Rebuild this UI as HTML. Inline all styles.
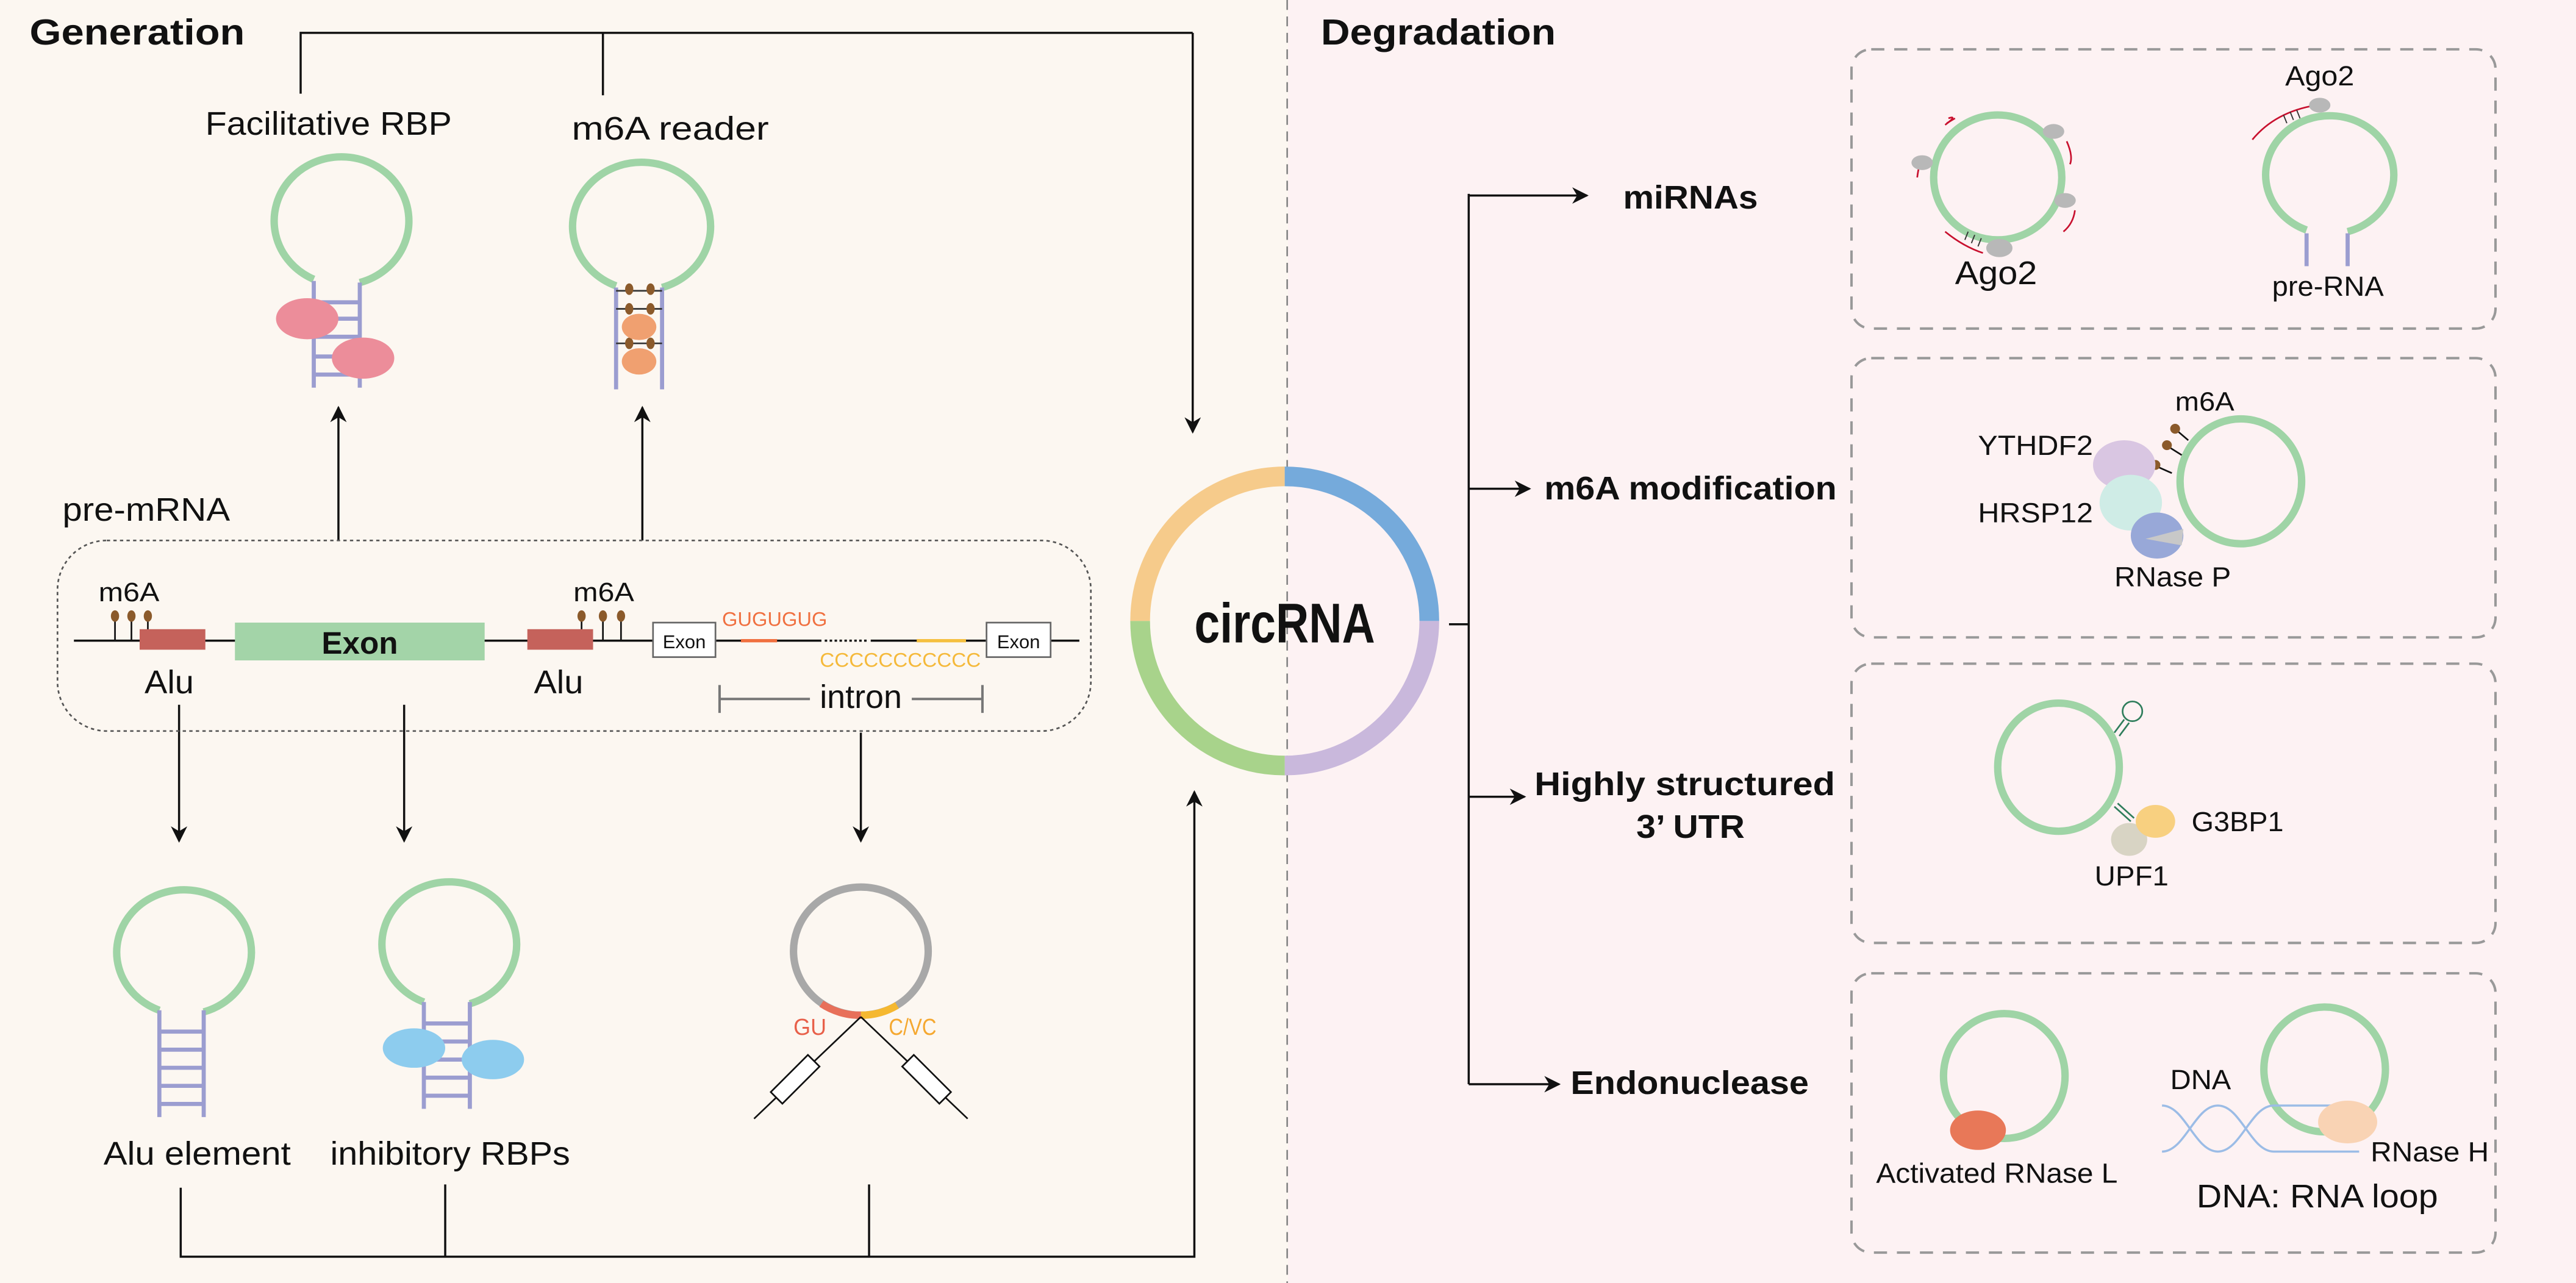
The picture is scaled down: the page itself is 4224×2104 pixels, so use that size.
<!DOCTYPE html>
<html><head><meta charset="utf-8"><style>
html,body{margin:0;padding:0;width:4224px;height:2104px;overflow:hidden;background:#fcf7f1}
svg{display:block}
text{font-family:"Liberation Sans",Arial,sans-serif;fill:#111}
.b{font-weight:bold}
</style></head><body>
<svg width="4224" height="2104" viewBox="0 0 1568 781" xmlns="http://www.w3.org/2000/svg">
<defs>
<marker id="ar" viewBox="0 0 10 10" refX="9" refY="5" markerWidth="10" markerHeight="10" markerUnits="userSpaceOnUse" orient="auto">
<path d="M0,0 L10,5 L0,10 L3,5 z" fill="#111"/>
</marker>
</defs>
<rect x="0" y="0" width="784" height="781" fill="#fcf7f1"/>
<rect x="784" y="0" width="784" height="781" fill="#fdf2f3"/>
<line x1="783.5" y1="0" x2="783.5" y2="781" stroke="#888" stroke-width="1" stroke-dasharray="6,4"/>

<!-- Titles -->
<text x="18" y="27" class="b" font-size="22" textLength="131" lengthAdjust="spacingAndGlyphs">Generation</text>
<text x="804" y="27" class="b" font-size="22" textLength="143" lengthAdjust="spacingAndGlyphs">Degradation</text>

<!-- top connector -->
<g stroke="#111" stroke-width="1.3" fill="none">
<polyline points="183,57 183,20 726,20"/>
<line x1="367" y1="20" x2="367" y2="58"/>
<line x1="726" y1="20" x2="726" y2="263" marker-end="url(#ar)"/>
<line x1="206" y1="329" x2="206" y2="248" marker-end="url(#ar)"/>
<line x1="391" y1="329" x2="391" y2="248" marker-end="url(#ar)"/>
<line x1="109" y1="429" x2="109" y2="512" marker-end="url(#ar)"/>
<line x1="246" y1="429" x2="246" y2="512" marker-end="url(#ar)"/>
<line x1="524" y1="446" x2="524" y2="512" marker-end="url(#ar)"/>
<polyline points="110,723 110,765 727,765 727,482" marker-end="url(#ar)"/>
<line x1="271" y1="721" x2="271" y2="765"/>
<line x1="529" y1="721" x2="529" y2="765"/>
</g>

<text x="125" y="82" font-size="20" textLength="150" lengthAdjust="spacingAndGlyphs">Facilitative RBP</text>
<text x="348" y="85" font-size="20" textLength="120" lengthAdjust="spacingAndGlyphs">m6A reader</text>

<!-- stem loop 1 -->
<path d="M191,170 A41,39 0 1 1 219,172" fill="none" stroke="#9fd4a6" stroke-width="4.5"/>
<g stroke="#9b9dd0" stroke-width="2.5">
<line x1="191" y1="171" x2="191" y2="236"/><line x1="219" y1="172" x2="219" y2="236"/>
<line x1="191" y1="184" x2="219" y2="184"/><line x1="191" y1="194" x2="219" y2="194"/><line x1="191" y1="205" x2="219" y2="205"/><line x1="191" y1="217" x2="219" y2="217"/><line x1="191" y1="228" x2="219" y2="228"/>
</g>
<ellipse cx="187" cy="194" rx="19" ry="12.5" fill="#ec8d9a"/>
<ellipse cx="221" cy="218" rx="19" ry="12.5" fill="#ec8d9a"/>

<!-- stem loop 2 -->
<path d="M375,174 A42,39 0 1 1 403,175" fill="none" stroke="#9fd4a6" stroke-width="4.5"/>
<g stroke="#9b9dd0" stroke-width="2.5">
<line x1="375" y1="175" x2="375" y2="237"/><line x1="403" y1="175" x2="403" y2="237"/>
</g>
<g stroke="#333" stroke-width="1">
<line x1="375" y1="177" x2="403" y2="177"/><line x1="375" y1="188" x2="403" y2="188"/><line x1="375" y1="209" x2="403" y2="209"/>
</g>
<g fill="#8b5a2b">
<ellipse cx="383" cy="176" rx="2.5" ry="3.5"/><ellipse cx="396" cy="176" rx="2.5" ry="3.5"/>
<ellipse cx="383" cy="188" rx="2.5" ry="3.5"/><ellipse cx="396" cy="188" rx="2.5" ry="3.5"/>
<ellipse cx="383" cy="209" rx="2.5" ry="3.5"/><ellipse cx="396" cy="209" rx="2.5" ry="3.5"/>
</g>
<ellipse cx="389" cy="199" rx="10.5" ry="8" fill="#f0a070"/>
<ellipse cx="389" cy="220" rx="10.5" ry="8" fill="#f0a070"/>

<!-- pre-mRNA -->
<text x="38" y="317" font-size="20" textLength="102" lengthAdjust="spacingAndGlyphs">pre-mRNA</text>
<rect x="35" y="329" width="629" height="116" rx="30" ry="30" fill="none" stroke="#555" stroke-width="1" stroke-dasharray="2,2"/>
<line x1="45" y1="390" x2="657" y2="390" stroke="#111" stroke-width="1.3"/>
<text x="60" y="366" font-size="16" textLength="37" lengthAdjust="spacingAndGlyphs">m6A</text>
<text x="349" y="366" font-size="16" textLength="37" lengthAdjust="spacingAndGlyphs">m6A</text>
<g stroke="#111" stroke-width="1">
<line x1="70" y1="376" x2="70" y2="390"/><line x1="80" y1="376" x2="80" y2="390"/><line x1="90" y1="376" x2="90" y2="390"/>
<line x1="354" y1="376" x2="354" y2="390"/><line x1="367" y1="376" x2="367" y2="390"/><line x1="378" y1="376" x2="378" y2="390"/>
</g>
<g fill="#8b5a2b">
<ellipse cx="70" cy="375" rx="2.5" ry="3.5"/><ellipse cx="80" cy="375" rx="2.5" ry="3.5"/><ellipse cx="90" cy="375" rx="2.5" ry="3.5"/>
<ellipse cx="354" cy="375" rx="2.5" ry="3.5"/><ellipse cx="367" cy="375" rx="2.5" ry="3.5"/><ellipse cx="378" cy="375" rx="2.5" ry="3.5"/>
</g>
<rect x="85" y="383" width="40" height="12.5" fill="#c5625b"/>
<rect x="321" y="383" width="40" height="12.5" fill="#c5625b"/>
<rect x="143" y="379" width="152" height="23" fill="#a3d4a8"/>
<text x="219" y="398" class="b" font-size="19" text-anchor="middle">Exon</text>
<rect x="397.5" y="379" width="38" height="21" fill="#fff" stroke="#666" stroke-width="1"/>
<text x="416.5" y="394.5" font-size="11.5" text-anchor="middle">Exon</text>
<rect x="600.5" y="379" width="39" height="21" fill="#fff" stroke="#666" stroke-width="1"/>
<text x="620" y="394.5" font-size="11.5" text-anchor="middle">Exon</text>
<rect x="436" y="388" width="164" height="4" fill="#fcf7f1"/>
<line x1="436" y1="390" x2="500" y2="390" stroke="#111" stroke-width="1.3"/>
<line x1="530" y1="390" x2="600" y2="390" stroke="#111" stroke-width="1.3"/>
<line x1="502" y1="390" x2="528" y2="390" stroke="#111" stroke-width="1.3" stroke-dasharray="1.5,1.5"/>
<line x1="451" y1="390" x2="473" y2="390" stroke="#f07040" stroke-width="2"/>
<line x1="558" y1="390" x2="588" y2="390" stroke="#f5c040" stroke-width="2"/>
<text x="439.5" y="381" font-size="12" fill="#f07040" style="fill:#f07040" textLength="64" lengthAdjust="spacingAndGlyphs">GUGUGUG</text>
<text x="499" y="406" font-size="12" style="fill:#f5b93a" textLength="98" lengthAdjust="spacingAndGlyphs">CCCCCCCCCCC</text>
<text x="88" y="422" font-size="20" textLength="30" lengthAdjust="spacingAndGlyphs">Alu</text>
<text x="325" y="422" font-size="20" textLength="30" lengthAdjust="spacingAndGlyphs">Alu</text>
<g stroke="#777" stroke-width="1.5">
<line x1="438" y1="425.5" x2="493" y2="425.5"/><line x1="555" y1="425.5" x2="598" y2="425.5"/>
<line x1="438" y1="417" x2="438" y2="434"/><line x1="598" y1="417" x2="598" y2="434"/>
</g>
<text x="524" y="431" font-size="20" text-anchor="middle">intron</text>

<!-- bottom stem loops -->
<path d="M97,615 A41,38 0 1 1 124,616" fill="none" stroke="#9fd4a6" stroke-width="4.5"/>
<g stroke="#9b9dd0" stroke-width="2.5">
<line x1="97" y1="615" x2="97" y2="680"/><line x1="124" y1="615" x2="124" y2="680"/>
<line x1="97" y1="628" x2="124" y2="628"/><line x1="97" y1="639" x2="124" y2="639"/><line x1="97" y1="650" x2="124" y2="650"/><line x1="97" y1="661" x2="124" y2="661"/><line x1="97" y1="672" x2="124" y2="672"/>
</g>
<path d="M258,610 A41,38 0 1 1 286,611" fill="none" stroke="#9fd4a6" stroke-width="4.5"/>
<g stroke="#9b9dd0" stroke-width="2.5">
<line x1="258" y1="610" x2="258" y2="675"/><line x1="286" y1="610" x2="286" y2="675"/>
<line x1="258" y1="623" x2="286" y2="623"/><line x1="258" y1="634" x2="286" y2="634"/><line x1="258" y1="645" x2="286" y2="645"/><line x1="258" y1="656" x2="286" y2="656"/><line x1="258" y1="667" x2="286" y2="667"/>
</g>
<ellipse cx="252" cy="638" rx="19" ry="12" fill="#8dccee"/>
<ellipse cx="300" cy="645" rx="19" ry="12" fill="#8dccee"/>
<text x="63" y="709" font-size="20" textLength="114" lengthAdjust="spacingAndGlyphs">Alu element</text>
<text x="201" y="709" font-size="20" textLength="146" lengthAdjust="spacingAndGlyphs">inhibitory RBPs</text>

<!-- intron circle -->
<ellipse cx="524" cy="579" rx="41" ry="39" fill="none" stroke="#a8a8a8" stroke-width="4.5"/>
<path d="M500,611 A41,39 0 0 0 524,618" fill="none" stroke="#e8705a" stroke-width="4.5"/>
<path d="M524,618 A41,39 0 0 0 546,612" fill="none" stroke="#f5b830" stroke-width="4.5"/>
<g stroke="#111" stroke-width="1">
<line x1="524" y1="619" x2="459" y2="681"/><line x1="524" y1="619" x2="589" y2="681"/>
</g>
<rect x="-5" y="-16" width="10" height="32" fill="#fff" stroke="#111" stroke-width="1" transform="translate(484,657) rotate(45)"/>
<rect x="-5" y="-16" width="10" height="32" fill="#fff" stroke="#111" stroke-width="1" transform="translate(564,657) rotate(-45)"/>
<text x="483" y="630" font-size="14" style="fill:#e8604a" textLength="20" lengthAdjust="spacingAndGlyphs">GU</text>
<text x="541" y="630" font-size="14" style="fill:#f5a830" textLength="29" lengthAdjust="spacingAndGlyphs">C/VC</text>

<!-- circRNA -->
<g fill="none" stroke-width="12">
<path d="M694,378 A88,88 0 0 1 782,290" stroke="#f6cb8b"/>
<path d="M782,290 A88,88 0 0 1 870,378" stroke="#75aadb"/>
<path d="M870,378 A88,88 0 0 1 782,466" stroke="#c9b8dc"/>
<path d="M782,466 A88,88 0 0 1 694,378" stroke="#a8d38b"/>
</g>
<text x="782" y="391" class="b" font-size="34" text-anchor="middle" textLength="110" lengthAdjust="spacingAndGlyphs">circRNA</text>

<!-- right connectors -->
<g stroke="#111" stroke-width="1.3" fill="none">
<line x1="882" y1="380" x2="894" y2="380"/>
<line x1="894" y1="118" x2="894" y2="660"/>
<line x1="894" y1="119" x2="966" y2="119" marker-end="url(#ar)"/>
<line x1="894" y1="297.5" x2="931" y2="297.5" marker-end="url(#ar)"/>
<line x1="894" y1="485" x2="928" y2="485" marker-end="url(#ar)"/>
<line x1="894" y1="660" x2="949" y2="660" marker-end="url(#ar)"/>
</g>
<text x="988" y="127" class="b" font-size="20" textLength="82" lengthAdjust="spacingAndGlyphs">miRNAs</text>
<text x="940" y="304" class="b" font-size="20" textLength="178" lengthAdjust="spacingAndGlyphs">m6A modification</text>
<text x="934" y="484" class="b" font-size="20" textLength="183" lengthAdjust="spacingAndGlyphs">Highly  structured</text>
<text x="996" y="510" class="b" font-size="20" textLength="66" lengthAdjust="spacingAndGlyphs">3’ UTR</text>
<text x="956" y="666" class="b" font-size="20" textLength="145" lengthAdjust="spacingAndGlyphs">Endonuclease</text>

<!-- dashed boxes -->
<g fill="none" stroke="#999" stroke-width="1.5" stroke-dasharray="8,6">
<rect x="1127" y="30" width="392" height="170" rx="12"/>
<rect x="1127" y="218" width="392" height="170" rx="12"/>
<rect x="1127" y="404" width="392" height="170" rx="12"/>
<rect x="1127" y="592.5" width="392" height="170" rx="12"/>
</g>

<!-- box1 -->
<ellipse cx="1216" cy="108" rx="39" ry="38" fill="none" stroke="#9fd4a6" stroke-width="4.5"/>
<g fill="none" stroke="#c8102e" stroke-width="1">
<path d="M1184,76 Q1192,70 1186,72"/><path d="M1185,75 L1190,72"/>
<path d="M1167,108 Q1168,100 1170,96"/>
<path d="M1258,86 Q1262,95 1260,100"/>
<path d="M1263,128 Q1262,136 1256,141"/>
<path d="M1184,141 Q1195,150 1207,154"/>
</g>
<g stroke="#333" stroke-width="0.7">
<line x1="1196" y1="146" x2="1198" y2="141"/><line x1="1200" y1="148" x2="1202" y2="143"/><line x1="1204" y1="150" x2="1206" y2="145"/>
</g>
<g fill="#b8b8b8">
<ellipse cx="1250" cy="80" rx="6.5" ry="4.5"/><ellipse cx="1170" cy="99" rx="6.5" ry="4.5"/>
<ellipse cx="1257" cy="122" rx="6.5" ry="4.5"/><ellipse cx="1217" cy="151" rx="8" ry="5.5"/>
</g>
<text x="1190" y="173" font-size="20" textLength="50" lengthAdjust="spacingAndGlyphs">Ago2</text>
<path d="M1404,140 A39,36 0 1 1 1429,141" fill="none" stroke="#9fd4a6" stroke-width="4.5"/>
<g stroke="#9b9dd0" stroke-width="2.5"><line x1="1404" y1="142" x2="1404" y2="162"/><line x1="1429" y1="142" x2="1429" y2="162"/></g>
<path d="M1371,85 Q1385,68 1410,64" fill="none" stroke="#c8102e" stroke-width="1"/>
<g stroke="#333" stroke-width="0.7"><line x1="1390" y1="70" x2="1392" y2="75"/><line x1="1394" y1="68" x2="1396" y2="73"/><line x1="1398" y1="67" x2="1400" y2="72"/></g>
<ellipse cx="1412" cy="64" rx="6.5" ry="4.5" fill="#b8b8b8"/>
<text x="1391" y="52" font-size="17" textLength="42" lengthAdjust="spacingAndGlyphs">Ago2</text>
<text x="1383" y="180" font-size="17" textLength="68" lengthAdjust="spacingAndGlyphs">pre-RNA</text>

<!-- box2 -->
<ellipse cx="1364" cy="293" rx="37" ry="38" fill="none" stroke="#9fd4a6" stroke-width="4.5"/>
<text x="1324" y="250" font-size="16" textLength="36" lengthAdjust="spacingAndGlyphs">m6A</text>
<g stroke="#111" stroke-width="1"><line x1="1325" y1="262" x2="1332" y2="268"/><line x1="1320" y1="272" x2="1328" y2="277"/><line x1="1313" y1="284" x2="1322" y2="288"/></g>
<g fill="#8b5a2b"><circle cx="1324" cy="261" r="3"/><circle cx="1319" cy="271" r="3"/><circle cx="1312" cy="283" r="3"/></g>
<ellipse cx="1293" cy="283" rx="19" ry="15" fill="#d9c6e2"/>
<ellipse cx="1297" cy="306" rx="19" ry="17" fill="#cfece6"/>
<ellipse cx="1313" cy="326" rx="16" ry="14" fill="#98a8d8"/>
<path d="M1329,322 L1306,328 L1328,332 z" fill="#c8c8c8"/>
<text x="1204" y="277" font-size="17" textLength="70" lengthAdjust="spacingAndGlyphs">YTHDF2</text>
<text x="1204" y="318" font-size="17" textLength="70" lengthAdjust="spacingAndGlyphs">HRSP12</text>
<text x="1287" y="357" font-size="17" textLength="71" lengthAdjust="spacingAndGlyphs">RNase P</text>

<!-- box3 -->
<ellipse cx="1253" cy="467" rx="37" ry="39" fill="none" stroke="#9fd4a6" stroke-width="4.5"/>
<g stroke="#2e7d5b" stroke-width="1" fill="none">
<line x1="1287" y1="446" x2="1293" y2="438"/><line x1="1290" y1="448" x2="1296" y2="440"/>
<circle cx="1298" cy="433" r="6"/>
<line x1="1287" y1="491" x2="1297" y2="500"/><line x1="1289" y1="489" x2="1299" y2="498"/>
</g>
<ellipse cx="1296" cy="511" rx="11" ry="10" fill="#d8d4c4"/>
<ellipse cx="1312" cy="500" rx="12" ry="10" fill="#f8d080"/>
<text x="1334" y="506" font-size="17" textLength="56" lengthAdjust="spacingAndGlyphs">G3BP1</text>
<text x="1275" y="539" font-size="17" textLength="45" lengthAdjust="spacingAndGlyphs">UPF1</text>

<!-- box4 -->
<ellipse cx="1220" cy="655" rx="37" ry="38" fill="none" stroke="#9fd4a6" stroke-width="4.5"/>
<ellipse cx="1204" cy="688" rx="17" ry="12" fill="#e87858"/>
<text x="1142" y="720" font-size="17" textLength="147" lengthAdjust="spacingAndGlyphs">Activated RNase L</text>
<ellipse cx="1415" cy="651" rx="37" ry="38" fill="none" stroke="#9fd4a6" stroke-width="4.5"/>
<g fill="none" stroke="#9bbce6" stroke-width="1.3">
<path d="M1316,673 C1330,673 1336,701 1350,701 C1364,701 1370,673 1384,673 L1430,673"/>
<path d="M1316,701 C1330,701 1336,673 1350,673 C1364,673 1370,701 1384,701 L1436,701"/>
</g>
<ellipse cx="1429" cy="683" rx="18" ry="13" fill="#f9d3b4"/>
<text x="1321" y="663" font-size="17" textLength="37" lengthAdjust="spacingAndGlyphs">DNA</text>
<text x="1443" y="707" font-size="17" textLength="72" lengthAdjust="spacingAndGlyphs">RNase H</text>
<text x="1337" y="735" font-size="20" textLength="147" lengthAdjust="spacingAndGlyphs">DNA: RNA loop</text>
</svg>
</body></html>
